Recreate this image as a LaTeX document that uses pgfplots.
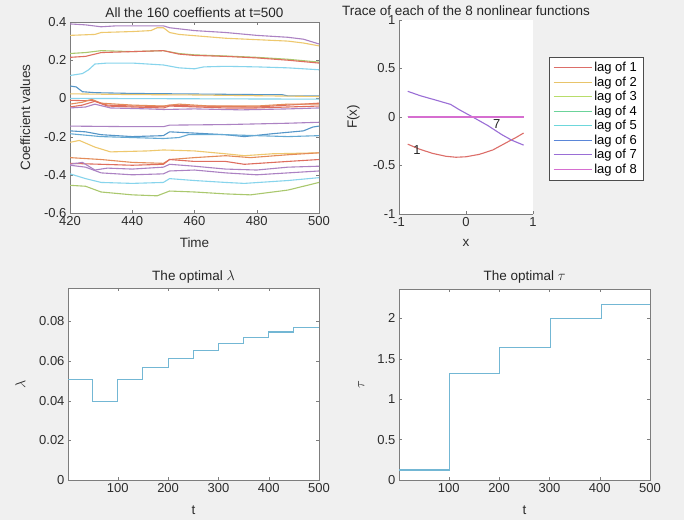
\documentclass[border=0pt]{standalone}
\usepackage{pgfplots}
\pgfplotsset{compat=1.18}
\usepackage{fontspec}
\setmainfont{Liberation Sans}
\definecolor{bg}{RGB}{240,240,240}
\definecolor{axgray}{RGB}{125,125,125}
\definecolor{txt}{RGB}{45,45,45}
\definecolor{cb}{RGB}{85,150,200}
\definecolor{co}{RGB}{228,140,90}
\definecolor{cy}{RGB}{238,200,110}
\definecolor{cp}{RGB}{172,130,195}
\definecolor{cg}{RGB}{170,200,110}
\definecolor{cc}{RGB}{135,212,236}
\definecolor{cr}{RGB}{222,110,95}
\definecolor{stepc}{RGB}{115,183,212}
\definecolor{lagA}{RGB}{220,110,105}
\definecolor{lagB}{RGB}{232,196,106}
\definecolor{lagC}{RGB}{184,221,106}
\definecolor{lagD}{RGB}{107,211,154}
\definecolor{lagE}{RGB}{109,215,219}
\definecolor{lagF}{RGB}{90,134,216}
\definecolor{lagG}{RGB}{154,110,214}
\definecolor{lagH}{RGB}{214,110,208}
\pgfplotsset{
  every axis title shift=0pt,
  mstyle/.style={
    scale only axis,
    anchor=south west,
    axis line style={axgray},
    tick style={axgray},
    major tick length=3pt,
    tick align=inside,
    every tick label/.append style={text=txt},
    tick label style={font=\fontsize{13}{15}\selectfont},
    label style={font=\fontsize{13.5}{15}\selectfont, text=txt},
    title style={font=\fontsize{13.5}{15}\selectfont, text=black!85, anchor=center},
    /pgf/number format/assume math mode=true,
    scaled ticks=false,
    every axis plot/.append style={line width=1.1pt},
  },
}
\begin{document}
\begin{tikzpicture}
\fill[bg] (0pt,0pt) rectangle (684pt,520pt);

% top left: coefficient traces
\begin{axis}[mstyle,
  at={(70pt,307pt)}, width=249pt, height=191pt,
  xmin=420, xmax=500, ymin=-0.6, ymax=0.4,
  xtick={420,440,...,500}, ytick={-0.6,-0.4,...,0.4},
  yticklabel style={/pgf/number format/fixed, /pgf/number format/precision=1},
  xlabel={Time}, ylabel={Coefficient values},
  xlabel style={at={(axis description cs:0.5,-0.157)}, anchor=center},
  ylabel style={at={(axis description cs:-0.18,0.5)}, anchor=center},
  title={All the 160 coeffients at t=500},
  title style={at={(axis description cs:0.5,1.05)}},
  axis background/.style={fill=white},
]
\addplot[cp] coordinates {(420,0.39)(425,0.385)(430,0.375)(435,0.38)(440,0.38)(450,0.38)(452,0.37)(460,0.355)(470,0.345)(480,0.33)(490,0.32)(495,0.31)(500,0.285)};
\addplot[cy] coordinates {(420,0.33)(428,0.335)(430,0.345)(440,0.35)(446,0.355)(448,0.37)(450,0.37)(452,0.345)(455,0.335)(470,0.315)(490,0.3)(495,0.29)(500,0.275)};
\addplot[cg] coordinates {(420,0.235)(425,0.24)(430,0.25)(440,0.245)(450,0.25)(455,0.235)(460,0.228)(470,0.222)(480,0.215)(490,0.205)(500,0.19)};
\addplot[cr] coordinates {(420,0.215)(425,0.22)(430,0.24)(440,0.245)(450,0.25)(455,0.232)(460,0.225)(470,0.22)(480,0.212)(490,0.2)(500,0.185)};
\addplot[cc] coordinates {(420,0.12)(424,0.13)(426,0.15)(428,0.18)(432,0.185)(440,0.185)(450,0.175)(455,0.16)(460,0.155)(463,0.165)(470,0.168)(480,0.165)(490,0.16)(500,0.15)};
\addplot[cb] coordinates {(420,0.065)(422,0.06)(424,0.035)(428,0.03)(440,0.026)(460,0.023)(480,0.02)(488,0.02)(490,0.013)(500,0.013)};
\addplot[cy] coordinates {(420,0.024)(440,0.02)(460,0.018)(480,0.014)(500,0.01)};
\addplot[cc] coordinates {(420,0.0)(460,-0.002)(500,-0.004)};
\addplot[cr] coordinates {(420,-0.01)(425,-0.012)(427,-0.01)(432,-0.035)(440,-0.04)(450,-0.042)(452,-0.035)(460,-0.04)(470,-0.042)(480,-0.045)(490,-0.035)(500,-0.025)};
\addplot[co] coordinates {(420,-0.03)(424,-0.02)(427,-0.005)(430,-0.025)(440,-0.035)(450,-0.04)(455,-0.03)(465,-0.04)(480,-0.04)(490,-0.03)(500,-0.03)};
\addplot[cr] coordinates {(420,-0.045)(424,-0.035)(428,-0.015)(432,-0.04)(440,-0.045)(450,-0.05)(452,-0.04)(470,-0.05)(480,-0.05)(490,-0.045)(500,-0.04)};
\addplot[cp] coordinates {(420,-0.05)(425,-0.045)(428,-0.03)(433,-0.05)(445,-0.055)(450,-0.058)(460,-0.055)(475,-0.06)(490,-0.055)(500,-0.05)};
\addplot[cp] coordinates {(420,-0.145)(440,-0.148)(450,-0.148)(452,-0.14)(470,-0.137)(490,-0.13)(500,-0.125)};
\addplot[cb] coordinates {(420,-0.17)(425,-0.175)(430,-0.19)(440,-0.2)(450,-0.195)(452,-0.175)(458,-0.18)(470,-0.19)(476,-0.2)(485,-0.185)(495,-0.17)(498,-0.15)(500,-0.145)};
\addplot[cb!70!cc] coordinates {(420,-0.185)(430,-0.2)(440,-0.205)(450,-0.21)(455,-0.205)(458,-0.19)(470,-0.19)(480,-0.195)(490,-0.2)(500,-0.195)};
\addplot[cy] coordinates {(420,-0.23)(423,-0.22)(428,-0.255)(433,-0.28)(445,-0.275)(450,-0.27)(460,-0.275)(470,-0.29)(476,-0.3)(485,-0.29)(500,-0.285)};
\addplot[co] coordinates {(420,-0.31)(430,-0.32)(440,-0.335)(450,-0.34)(452,-0.32)(460,-0.31)(470,-0.3)(478,-0.31)(490,-0.295)(500,-0.285)};
\addplot[cr] coordinates {(420,-0.34)(430,-0.345)(440,-0.35)(450,-0.345)(452,-0.32)(460,-0.33)(470,-0.33)(476,-0.345)(490,-0.33)(500,-0.32)};
\addplot[cp] coordinates {(420,-0.345)(424,-0.335)(428,-0.375)(432,-0.365)(440,-0.37)(450,-0.36)(452,-0.345)(460,-0.355)(470,-0.37)(480,-0.375)(490,-0.36)(500,-0.355)};
\addplot[cp] coordinates {(420,-0.35)(425,-0.36)(430,-0.39)(440,-0.4)(450,-0.395)(452,-0.38)(460,-0.375)(470,-0.39)(480,-0.4)(490,-0.39)(500,-0.38)};
\addplot[cc] coordinates {(420,-0.395)(425,-0.42)(430,-0.44)(440,-0.445)(450,-0.44)(452,-0.42)(460,-0.43)(470,-0.44)(476,-0.445)(490,-0.43)(500,-0.415)};
\addplot[cg] coordinates {(420,-0.455)(425,-0.46)(430,-0.49)(440,-0.505)(448,-0.51)(452,-0.485)(460,-0.49)(470,-0.5)(478,-0.505)(490,-0.48)(500,-0.44)};
\end{axis}

% top right: nonlinear functions
\begin{axis}[mstyle,
  at={(399pt,306pt)}, width=134pt, height=194pt,
  xmin=-1, xmax=1, ymin=-1, ymax=1,
  axis x line*=bottom, axis y line*=left,
  xtick={-1,0,1}, ytick={-1,-0.5,0,0.5,1},
  xlabel={x}, ylabel={F(x)},
  xlabel style={at={(axis description cs:0.5,-0.15)}, anchor=center},
  ylabel style={at={(axis description cs:-0.34,0.5)}, anchor=center},
  title={Trace of each of the 8 nonlinear functions},
  title style={at={(axis description cs:0.5,1.05)}},
  axis background/.style={fill=white},
  legend style={at={(axis description cs:1.119,0.809)}, anchor=north west,
    draw=black!70, fill=white, font=\fontsize{13}{14}\selectfont,
    inner xsep=4pt, inner ysep=3pt, row sep=-0.4pt, cells={anchor=west}},
  legend image code/.code={\draw[#1] (3pt,0pt) -- (41pt,0pt);},
  legend image post style={line width=1.1pt},
]
\addplot[color=lagA] coordinates {(-0.87,-0.28)(-0.7,-0.33)(-0.5,-0.375)(-0.3,-0.405)(-0.15,-0.415)(0,-0.41)(0.2,-0.385)(0.4,-0.34)(0.6,-0.265)(0.75,-0.21)(0.86,-0.165)};
\addplot[color=lagB] coordinates {(-0.87,0)(0.86,0)};
\addplot[color=lagC] coordinates {(-0.87,0)(0.86,0)};
\addplot[color=lagD] coordinates {(-0.87,0)(0.86,0)};
\addplot[color=lagE] coordinates {(-0.87,0)(0.86,0)};
\addplot[color=lagF] coordinates {(-0.87,0)(0.86,0)};
\addplot[color=lagG] coordinates {(-0.87,0.265)(-0.685,0.22)(-0.43,0.17)(-0.23,0.13)(-0.1,0.075)(0.1,0)(0.33,-0.09)(0.53,-0.18)(0.685,-0.24)(0.86,-0.29)};
\addplot[color=lagH] coordinates {(-0.87,0)(0.86,0)};
\legend{lag of 1,lag of 2,lag of 3,lag of 4,lag of 5,lag of 6,lag of 7,lag of 8}
\node[font=\fontsize{13}{15}\selectfont, text=black!85] at (axis cs:-0.73,-0.34) {1};
\node[font=\fontsize{13}{15}\selectfont, text=black!85] at (axis cs:0.46,-0.07) {7};
\end{axis}

% bottom left: lambda
\begin{axis}[mstyle,
  at={(68pt,40pt)}, width=251pt, height=192pt,
  xmin=1, xmax=500, ymin=0, ymax=0.0968,
  xtick={100,200,...,500}, ytick={0,0.02,0.04,0.06,0.08},
  yticklabels={0,0.02,0.04,0.06,0.08},
  xlabel={t}, ylabel={$\lambda$},
  xlabel style={at={(axis description cs:0.5,-0.156)}, anchor=center},
  ylabel style={at={(axis description cs:-0.19,0.5)}, anchor=center},
  title={The optimal $\lambda$},
  title style={at={(axis description cs:0.5,1.057)}},
  axis background/.style={fill=white},
]
\addplot[stepc, const plot] coordinates {(1,0.0505)(50,0.0397)(100,0.0505)(150,0.0568)(200,0.0611)(250,0.0653)(300,0.0689)(350,0.0719)(400,0.0746)(450,0.0768)(500,0.0768)};
\end{axis}

% bottom right: tau
\begin{axis}[mstyle,
  at={(399pt,40pt)}, width=251pt, height=191pt,
  xmin=1, xmax=500, ymin=0, ymax=2.363,
  xtick={100,200,...,500}, ytick={0,0.5,...,2},
  xlabel={t}, ylabel={$\tau$},
  xlabel style={at={(axis description cs:0.5,-0.156)}, anchor=center},
  ylabel style={at={(axis description cs:-0.15,0.5)}, anchor=center},
  title={The optimal $\tau$},
  title style={at={(axis description cs:0.5,1.063)}},
  axis background/.style={fill=white},
]
\addplot[stepc, const plot] coordinates {(1,0.124)(101,1.32)(201,1.64)(302,2.0)(403,2.17)(500,2.17)};
\end{axis}
\pgfresetboundingbox
\useasboundingbox (0pt,0pt) rectangle (684pt,520pt);
\end{tikzpicture}
\end{document}
